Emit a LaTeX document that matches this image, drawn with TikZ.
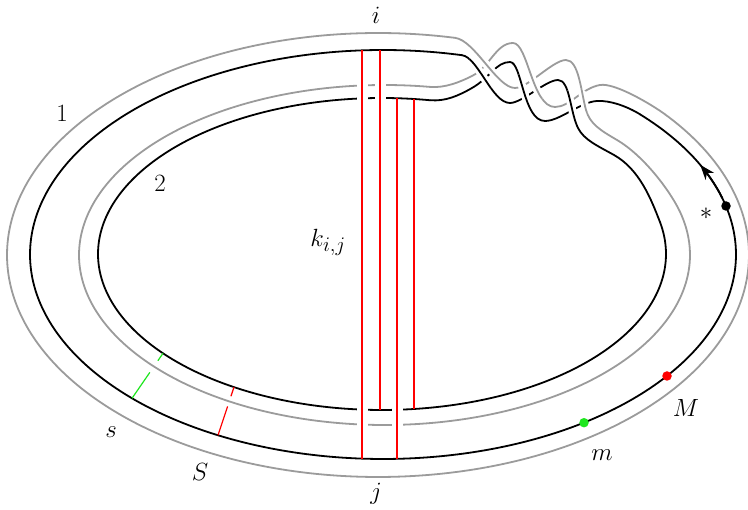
\documentclass[tikz,border=0pt]{standalone}
\usetikzlibrary{arrows.meta,calc}
\definecolor{rgray}{RGB}{155,155,155}
\definecolor{lgreen}{RGB}{30,230,30}
\newcommand{\Ablack}{(462,55.2) .. controls (478,57.3) and (492,103) .. (510,103) .. controls (522,103) and (546,80) .. (558,80) .. controls (570,80) and (570,112) .. (578,128) .. controls (584,140) and (598,146) .. (614,155) .. controls (639.6,169.4) and (651.1,199.2) .. (659.8,221.6)}
\newcommand{\Agray}{(455,37.8) .. controls (475,40.3) and (497,88) .. (515,88) .. controls (528,88) and (553,60) .. (566,60) .. controls (579,60) and (581,92) .. (586,110) .. controls (590,124) and (600,130) .. (617,140) .. controls (644.2,156) and (670.1,191.2) .. (679.6,211)}
\newcommand{\Cblack}{(430,100.2) .. controls (445,101.6) and (458,96) .. (472,88) .. controls (490,77.7) and (496,62) .. (510,62) .. controls (522,62) and (523,121) .. (545,121) .. controls (560,121) and (580,102) .. (597,101) .. controls (610,100.2) and (627.2,106.4) .. (640,114.3)}
\newcommand{\Cgray}{(430,86.9) .. controls (445,88.2) and (460,82) .. (472,76) .. controls (490,67) and (496,43) .. (513,43) .. controls (528,43) and (532,107) .. (555,107) .. controls (570,107) and (582,88) .. (600,85) .. controls (615,82.5) and (652.1,104.9) .. (665,114.3)}
\begin{document}
\begin{tikzpicture}[x=1pt,y=-1pt,
 blk/.style={black,line width=1.8pt,line cap=round},
 gry/.style={rgray,line width=1.8pt,line cap=round},
 halo/.style={white,line width=#1},
 rln/.style={red,line width=1.2pt},
 gln/.style={lgreen,line width=1.2pt},
 lab/.style={font=\Huge,inner sep=0pt},
 dot/.style={circle,fill=#1,inner sep=0pt,minimum size=9.5pt}]
\useasboundingbox (0,0) rectangle (748,510);

% gray edges
\draw[gry] plot[domain=-39.32:281.98,samples=330,variable=\t] ({378+371*cos(\t)},{255+222*sin(\t)});
\draw[gry] plot[domain=-15:278.57,samples=300,variable=\t] ({384.5+305.5*cos(\t)},{255+170*sin(\t)});
\draw[gry] \Agray;
\draw[gry] \Cgray;
% black edges
\draw[blk] plot[domain=-43.28:282.93,samples=330,variable=\t] ({383+353*cos(\t)},{254.5+204.5*sin(\t)});
\draw[blk] plot[domain=-12:279.73,samples=300,variable=\t] ({382+284*cos(\t)},{254+156*sin(\t)});
\draw[blk] \Ablack;
\draw[blk] \Cblack;

% crossings in the twist
\begin{scope}
\clip (485,70) circle[radius=19pt];
\draw[halo=8pt] \Ablack; \draw[halo=8pt] \Agray;
\draw[blk] \Ablack; \draw[gry] \Agray;
\end{scope}
\begin{scope}
\clip (529,88) circle[radius=17pt];
\draw[halo=8pt] \Cblack; \draw[halo=8pt] \Cgray;
\draw[blk] \Cblack; \draw[gry] \Cgray;
\end{scope}
\begin{scope}
\clip (576,103) circle[radius=15pt];
\draw[halo=8pt] \Ablack; \draw[halo=8pt] \Agray;
\draw[blk] \Ablack; \draw[gry] \Agray;
\end{scope}

% s and S segments
\coordinate (s1) at (132,398.3); \coordinate (s2) at (163,353.3);
\draw[gln] (s1) -- ($(s1)!0.575!(s2)$);
\draw[gln] ($(s1)!0.835!(s2)$) -- (s2);
\coordinate (S1) at (218,435.3); \coordinate (S2) at (234,387.1);
\draw[rln] (S1) -- ($(S1)!0.6!(S2)$);
\draw[rln] ($(S1)!0.81!(S2)$) -- (S2);

% red chords k_{i,j}
\coordinate (r1t) at (362,50.4); \coordinate (r1b) at (362,458.6);
\coordinate (r2t) at (380,50.0); \coordinate (r2b) at (380,410);
\coordinate (r3t) at (397,98.2); \coordinate (r3b) at (397,458.8);
\coordinate (r4t) at (414,99.0); \coordinate (r4b) at (414,409);
\draw[halo=11pt] (362,72) -- (362,438);
\draw[halo=11pt] (380,74) -- (380,110);
\draw[halo=11pt] (397,398) -- (397,437);
\draw[rln] (r1t) -- (r1b);
\draw[rln] (r2t) -- (r2b);
\draw[rln] (r3t) -- (r3b);
\draw[rln] (r4t) -- (r4b);

% arrow and points
\draw[blk,-{Stealth[length=15pt,width=11pt,inset=4.5pt]}] plot[domain=-16:-26,samples=12,variable=\t] ({383+353*cos(\t)},{254.5+204.5*sin(\t)});
\node[dot=black] (star) at (726,206) {};
\node[dot=red] (Mdot) at (667,376) {};
\node[dot=lgreen] (mdot) at (584,422.7) {};

% labels
\node[lab] (li) at (376,15) {$i$};
\node[lab] (lj) at (376,494) {$j$};
\node[lab] (l1) at (62,113) {$1$};
\node[lab] (l2) at (160,183) {$2$};
\node[lab] (lk) at (328,242) {$k_{i,j}$};
\node[lab] (ls) at (111,432) {$s$};
\node[lab] (lS) at (200,472) {$S$};
\node[lab] (lm) at (602,455) {$m$};
\node[lab] (lM) at (686,408) {$M$};
\node[lab] (last) at (706,214) {$*$};
\end{tikzpicture}
\end{document}
